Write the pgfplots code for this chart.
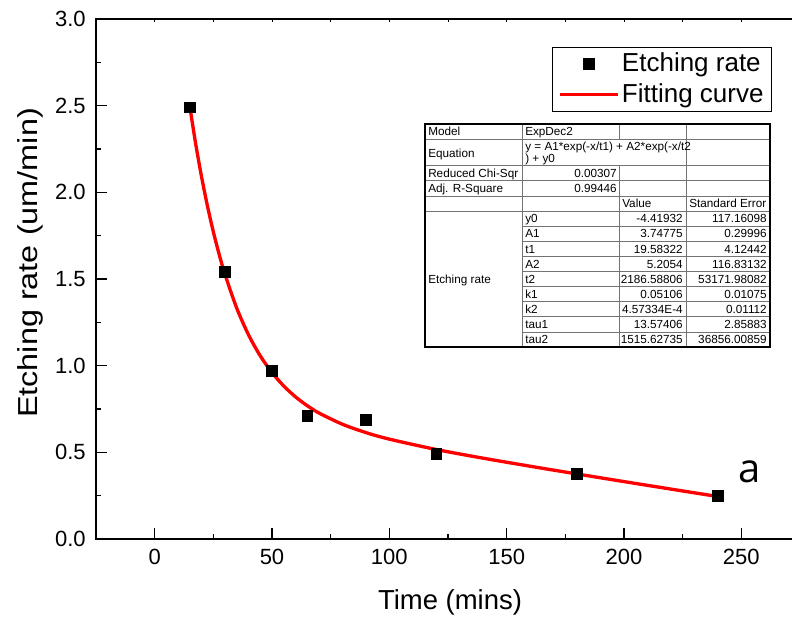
\documentclass[border=0pt]{standalone}
\usepackage{fontspec}
\setmainfont{Liberation Sans}
\newfontfamily\opensans{Open Sans}
\usepackage{pgfplots}
\pgfplotsset{compat=1.18}
\usetikzlibrary{calc}
\definecolor{fitred}{RGB}{255,0,0}
\newcommand{\tfont}{\fontsize{8.8}{10}\selectfont}
\pgfplotsset{
  marklegend/.style={legend image code/.code={\draw[mark repeat=2,mark phase=2,##1] plot coordinates {(0pt,0pt) (21.75pt,0pt) (43.5pt,0pt)};}},
  linelegend/.style={legend image code/.code={\draw[##1] (0pt,0pt) -- (43.5pt,0pt);}},
}
\begin{document}
\begin{tikzpicture}
\begin{axis}[
  name=main,
  set layers,
  scale only axis, width=528pt, height=390pt,
  xmin=-25, xmax=275, ymin=0, ymax=3,
  xtick={0,50,...,250}, minor x tick num=1,
  ytick={0,0.5,...,3}, minor y tick num=1,
  xtick pos=bottom, ytick pos=left,
  tick align=inside,
  major tick length=8pt, minor tick length=4pt,
  axis line style={line width=1.4pt},
  every tick/.style={black, line width=0.9pt},
  tick label style={font=\fontsize{16.5}{19}\selectfont},
  /pgf/number format/assume math mode=true,
  yticklabel style={/pgf/number format/fixed, /pgf/number format/fixed zerofill, /pgf/number format/precision=1, xshift=-4.25pt},
  xticklabel style={yshift=-4.25pt},
  legend style={at={(rel axis cs:0.9602,0.9462)}, anchor=north east, draw=black, line width=0.6pt,
    font=\fontsize{19.5}{23}\selectfont, inner xsep=4pt, inner ysep=1pt,
    nodes={inner sep=2pt, text height=15pt, text depth=4pt}},
  legend cell align=left,
]
\addplot[only marks, mark=square*, mark size=4pt, black, marklegend]
  coordinates {(15,2.49) (30,1.54) (50,0.969) (65,0.71) (90,0.687) (120,0.49) (180,0.375) (240,0.248)};
\addlegendentry{Etching rate}
\addplot[on layer=axis background, fitred, line width=2.5pt, smooth, no marks, linelegend]
  coordinates {(15,2.4928) (17.5,2.2781) (20,2.0884) (22.5,1.9207) (25,1.7725) (27.5,1.6413)
  (30,1.5251) (35,1.3309) (40,1.1778) (45,1.0566) (50,0.9601) (55,0.8828) (60,0.8202)
  (65,0.7692) (70,0.7271) (80,0.6621) (90,0.6140) (100,0.5761) (120,0.5163) (140,0.4662)
  (160,0.4199) (180,0.3751) (200,0.3312) (220,0.2879) (240,0.2450)};
\addlegendentry{Fitting curve}
\end{axis}
\begin{axis}[
  scale only axis, width=528pt, height=390pt,
  xmin=-25, xmax=275, ymin=0, ymax=3,
  axis x line*=top, axis y line=none,
  xtick={0,50,...,250}, minor x tick num=1, xticklabels={},
  tick align=inside, major tick length=2.5pt, minor tick length=2.5pt,
  axis line style={line width=1.4pt},
  every tick/.style={black, line width=0.7pt},
]
\end{axis}
\begin{scope}[shift={($(main.north west)+(-72pt,14.25pt)$)}, x=0.75pt, y=-0.75pt]
  % axis labels
  \node[rotate=90, font=\fontsize{20.6}{24}\selectfont, inner sep=0pt] at (30,263) {\scalebox{1.18}[1]{Etching rate (um/min)}};
  \node[anchor=base, font=\fontsize{20.6}{24}\selectfont, inner sep=0pt] at (450,609) {Time (mins)};
  \node[anchor=base, font=\opensans\fontsize{30}{34}\selectfont, inner sep=0pt] at (750,482) {a};
  % table
  \fill[white] (425,124) rectangle (770,347);
  \begin{scope}[black!55, line width=0.5pt]
    \foreach \yy in {139.2,165.5,180.7,195.9,211.1} \draw (425,\yy) -- (770,\yy);
    \foreach \yy in {226.2,241.3,256.4,271.5,286.6,301.7,316.8,331.9} \draw (522,\yy) -- (770,\yy);
    \draw (522,124) -- (522,347);
    \draw (686,124) -- (686,347);
    \draw (619,124) -- (619,139.2);
    \draw (619,165.5) -- (619,347);
  \end{scope}
  \draw[black, line width=0.8pt] (425,124) rectangle (770,347);
  \begin{scope}[every node/.style={font=\tfont, inner sep=0pt}]
    \node[anchor=base west] at (428,135.7) {Model};
    \node[anchor=base west] at (525,135.7) {ExpDec2};
    \node[anchor=base west] at (428,157) {Equation};
    \node[anchor=base west] at (525,150) {y = A1*exp(-x/t1) + A2*exp(-x/t2};
    \node[anchor=base west] at (525,162) {) + y0};
    \node[anchor=base west] at (428,177.3) {Reduced Chi-Sqr};
    \node[anchor=base east] at (617,177.3) {0.00307};
    \node[anchor=base west] at (428,192.5) {Adj. R-Square};
    \node[anchor=base east] at (617,192.5) {0.99446};
    \node[anchor=base west] at (622,207.7) {Value};
    \node[anchor=base west] at (689,207.7) {Standard Error};
    \node[anchor=base west] at (428,283) {Etching rate};
    \foreach \n/\v/\e [count=\i from 0] in {y0/-4.41932/117.16098, A1/3.74775/0.29996,
        t1/19.58322/4.12442, A2/5.2054/116.83132, t2/2186.58806/53171.98082,
        k1/0.05106/0.01075, k2/4.57334E-4/0.01112, tau1/13.57406/2.85883,
        tau2/1515.62735/36856.00859} {
      \node[anchor=base west] at (525,{222.8+15.1*\i}) {\n};
      \node[anchor=base east] at (683,{222.8+15.1*\i}) {\v};
      \node[anchor=base east] at (767,{222.8+15.1*\i}) {\e};
    }
  \end{scope}
  \pgfresetboundingbox
  \path (0,0) rectangle (792,619);
\end{scope}
\end{tikzpicture}
\end{document}
